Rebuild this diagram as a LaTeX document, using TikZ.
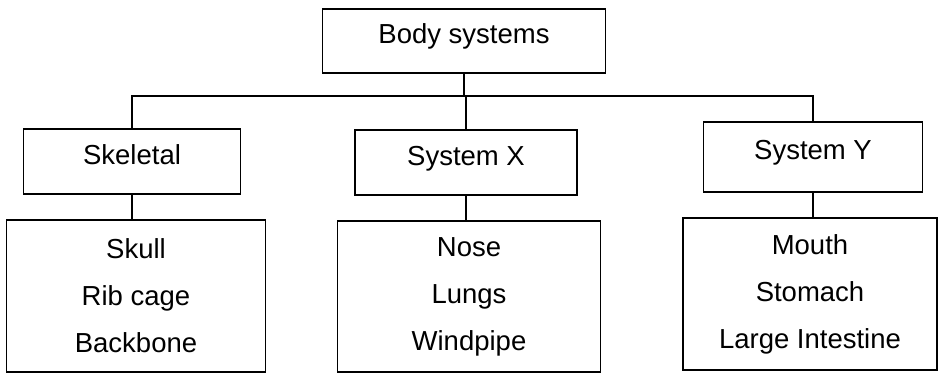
\documentclass[tikz,border=0pt]{standalone}
\usepackage{fontspec}
\setmainfont{Liberation Sans}
\usetikzlibrary{positioning,calc}
\tikzset{
	every node/.style = { align = center, draw, line width=1.4pt },
	sys/.style = { rectangle, font=\fontsize{27.5}{32}\selectfont, text height=20pt, text depth=14pt },
	lst/.style = { rectangle, font=\fontsize{27.5}{47}\selectfont },
	con/.style = { line width=1.6pt },
}

\begin{document}
\begin{tikzpicture}[x=1pt,y=-1pt]
\useasboundingbox (0,0) rectangle (939,374);

\node (body)  [sys,minimum width=283pt,minimum height=64pt] at (464,41)    {Body systems};

\node (skel)  [sys,minimum width=217pt,minimum height=65pt] at (132,161.5) {Skeletal};
\node (sysx)  [sys,minimum width=222pt,minimum height=65pt] at (466,162.5) {System X};
\node (sysy)  [sys,minimum width=219pt,minimum height=70pt] at (813,157)   {System Y};

\node (skl)   [lst,minimum width=259pt,minimum height=152pt] at (136,296)   {Skull \\ Rib cage \\ Backbone};
\node (resp)  [lst,minimum width=263pt,minimum height=151pt] at (469,296.5) {Nose \\ Lungs \\ Windpipe};
\node (dig)   [lst,minimum width=254pt,minimum height=152pt] at (810,294)   {Mouth \\ Stomach \\ Large Intestine};

% branches
\coordinate (bus) at (464,96);
\draw[con] (body) -- (bus);
\draw[con] (skel) |- (bus) -| (sysy);
\draw[con] (sysx) -- (sysx|-bus);

\draw[con] (skel.south) -- (skel.south|-skl.north);
\draw[con] (sysx.south) -- (sysx.south|-resp.north);
\draw[con] (sysy.south) -- (sysy.south|-dig.north);

\end{tikzpicture}
\end{document}
